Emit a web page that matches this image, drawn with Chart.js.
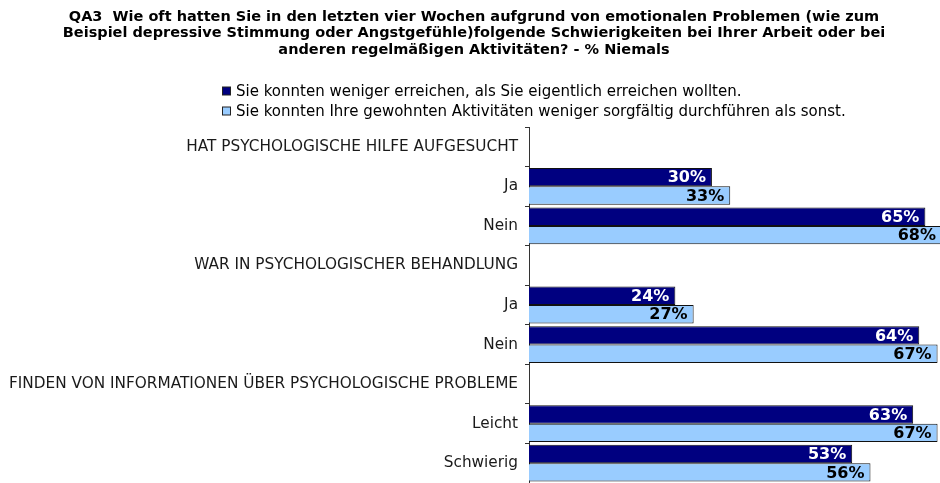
<!DOCTYPE html>
<html>
<head>
<meta charset="utf-8">
<script src="https://cdn.jsdelivr.net/npm/chart.js@4"></script>
<style>
html,body{margin:0;padding:0;background:#fff}
#chart{display:block}
</style>
</head>
<body>
<canvas id="chart" width="940" height="483"></canvas>
<script>
/* QA3 – % Niemals, horizontal bars */

const TITLE=[
  'QA3  Wie oft hatten Sie in den letzten vier Wochen aufgrund von emotionalen Problemen (wie zum',
  'Beispiel depressive Stimmung oder Angstgefühle)folgende Schwierigkeiten bei Ihrer Arbeit oder bei',
  'anderen regelmäßigen Aktivitäten? - % Niemals'
];
const SERIES_NAMES=[
  'Sie konnten weniger erreichen, als Sie eigentlich erreichen wollten.',
  'Sie konnten Ihre gewohnten Aktivitäten weniger sorgfältig durchführen als sonst.'
];
const categories=[
  'HAT PSYCHOLOGISCHE HILFE AUFGESUCHT','Ja','Nein',
  'WAR IN PSYCHOLOGISCHER BEHANDLUNG','Ja','Nein',
  'FINDEN VON INFORMATIONEN ÜBER PSYCHOLOGISCHE PROBLEME','Leicht','Schwierig'
];
const wenigerErreicht=[null,30,65,null,24,64,null,63,53];
const wenigerSorgfaeltig=[null,33,68,null,27,67,null,67,56];

const FONT='"DejaVu Sans", Verdana, sans-serif';
const COLORS=['#000080','#99ccff'];
const LABEL_COLORS=['#ffffff','#000000'];

// value labels at the end of each bar
const barLabels={id:'barLabels',afterDatasetsDraw(chart){
  const ctx=chart.ctx,area=chart.chartArea;
  ctx.save();
  ctx.font='bold 16px '+FONT;ctx.textAlign='right';ctx.textBaseline='middle';
  chart.data.datasets.forEach((ds,i)=>{
    chart.getDatasetMeta(i).data.forEach((bar,j)=>{
      const v=ds.data[j];if(v==null)return;
      ctx.fillStyle=LABEL_COLORS[i];
      ctx.fillText(v+'%',Math.min(bar.x-6,area.right-4),bar.y+1);
    });
  });
  ctx.restore();
}};

// stacked legend, left aligned block
const stackLegend={id:'stackLegend',afterDraw(chart){
  const ctx=chart.ctx;
  ctx.save();
  ctx.font='15px '+FONT;ctx.textBaseline='middle';ctx.textAlign='left';
  SERIES_NAMES.forEach((name,i)=>{
    const y=91.5+i*20;
    ctx.fillStyle=COLORS[i];ctx.fillRect(222.5,y-4.5,8,8);
    ctx.strokeStyle='#222';ctx.lineWidth=1;ctx.strokeRect(222.5,y-4.5,8,8);
    ctx.fillStyle='#000';ctx.fillText(name,236,y+1);
  });
  ctx.restore();
}};

new Chart(document.getElementById('chart'),{
  type:'bar',
  data:{labels:categories,datasets:[
    {label:SERIES_NAMES[0],data:wenigerErreicht,backgroundColor:COLORS[0],borderColor:'#111',borderWidth:1},
    {label:SERIES_NAMES[1],data:wenigerSorgfaeltig,backgroundColor:COLORS[1],borderColor:'#111',borderWidth:1}
  ]},
  options:{
    indexAxis:'y',responsive:false,animation:false,
    categoryPercentage:0.93,barPercentage:1,
    layout:{padding:{left:8,right:0,top:0,bottom:-2.5}},
    plugins:{
      legend:{display:false},
      tooltip:{enabled:false},
      title:{display:true,text:TITLE,color:'#000',font:{family:FONT,size:14.5,weight:'bold',lineHeight:'16.5px'},padding:{top:8.75,bottom:68.75}}
    },
    scales:{
      x:{display:false,min:0,max:67.4},
      y:{
        grid:{drawOnChartArea:false,tickLength:4,color:'#333'},
        border:{color:'#333'},
        ticks:{autoSkip:false,padding:7,color:'#1a1a1a',font:{family:FONT,size:15.3}},
        afterFit(s){s.width=521;s.paddingTop=0;s.paddingBottom=0;}
      }
    }
  },
  plugins:[barLabels,stackLegend]
});
</script>
</body>
</html>
